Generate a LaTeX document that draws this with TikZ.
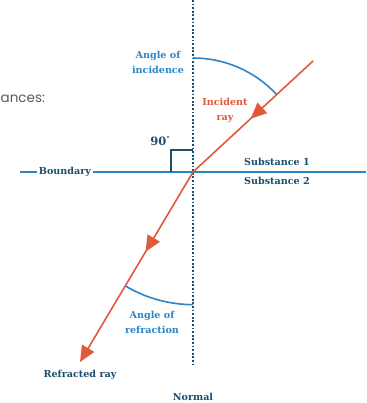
\documentclass[tikz,border=0pt]{standalone}
\usepackage{fontspec}
\setmainfont{DejaVu Serif}
\newfontfamily\slidefont{Poppins}
\usetikzlibrary{arrows.meta,decorations.markings,calc}
\definecolor{navy}{HTML}{1D4E6E}
\definecolor{lblue}{HTML}{2B86C8}
\definecolor{rayred}{HTML}{E05A3A}
\tikzset{
  >={Triangle[length=16pt, width=14pt]},
  lbl/.style={font=\bfseries\fontsize{9.6}{15}\selectfont, align=center, inner sep=1pt},
  ray/.style={draw=rayred, line width=1.6pt, line join=round},
  anglearc/.style={draw=lblue, line width=1.6pt},
}
\begin{document}
\begin{tikzpicture}[x=1pt,y=-1pt]
\useasboundingbox (0,0) rectangle (366,403);
% points
\coordinate (O) at (193,172);
\coordinate (Itop) at (313,61);
\coordinate (Rend) at (80,362);
\coordinate (Ntop) at (193,0);
\coordinate (Nbot) at (193,365);
\coordinate (Bleft) at (20,172);
\coordinate (Bright) at (366,172);
% slide fragment
\node[anchor=west, inner sep=0pt, text=black!65, font=\slidefont\fontsize{13.5}{15}\selectfont] (frag) at (0.5,99) {ances:};
% boundary
\node[lbl, text=navy, inner sep=1.5pt] (bnd) at (65,172) {Boundary};
\draw[lblue, line width=1.6pt] (Bleft) -- (bnd.west);
\draw[lblue, line width=1.6pt] (bnd.east) -- (Bright);
% right angle
\draw[navy, line width=1.6pt] (171,172) -- (171,150) -- (193,150);
\node[lbl, text=navy, font=\bfseries\fontsize{11.5}{13}\selectfont] (ninety) at (160,141) {90\raisebox{4pt}{\fontsize{7}{7}\selectfont\textdegree}};
% normal
\draw[navy, line width=1.8pt, dash pattern=on 1.8pt off 1.8pt] (Ntop) -- (Nbot);
% arcs
\draw[anglearc] (193,58) arc[start angle=-90, end angle=-42.8, radius=114];
\draw[anglearc] (125.5,286) arc[start angle=120.8, end angle=90, radius=132];
% rays
\draw[ray, postaction={decorate}, decoration={markings, mark=at position 0.52 with {\arrow[rayred]{>}}}] (Itop) -- (O);
\draw[ray, ->, postaction={decorate}, decoration={markings, mark=at position 0.42 with {\arrow[rayred]{>}}}] (O) -- (Rend);
% labels
\node[lbl, text=lblue] (aoi) at (158,62) {Angle of\\incidence};
\node[lbl, text=rayred] (inc) at (225,110) {Incident\\ray};
\node[lbl, text=navy, anchor=west] (s1) at (243,162) {Substance 1};
\node[lbl, text=navy, anchor=west] (s2) at (243,181) {Substance 2};
\node[lbl, text=lblue] (aor) at (152,322) {Angle of\\refraction};
\node[lbl, text=navy] (refr) at (80,375) {Refracted ray};
\node[lbl, text=navy] (norm) at (193,397) {Normal};
\end{tikzpicture}
\end{document}
